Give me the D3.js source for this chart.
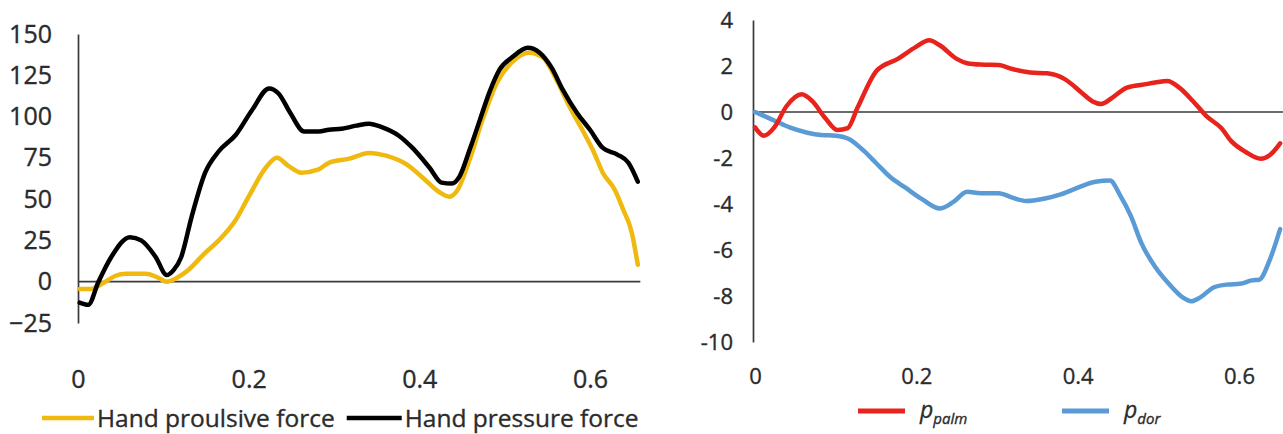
<!DOCTYPE html>
<html>
<head>
<meta charset="utf-8">
<script src="https://cdn.jsdelivr.net/npm/d3@7/dist/d3.min.js"></script>
<style>
  html, body { margin: 0; padding: 0; background: #fff; }
  svg { display: block; }
  text { font-family: "Open Sans", sans-serif; fill: #2b2b2b; stroke: #2b2b2b; stroke-width: 0.35px; }
</style>
</head>
<body>
<svg id="chart" width="1283" height="434"></svg>
<script>
// ---------- Left chart data ----------
const leftYTicks = [-25, 0, 25, 50, 75, 100, 125, 150];
const leftXTicks = [0, 0.2, 0.4, 0.6];
const leftXTickLabels = ["0", "0.2", "0.4", "0.6"];
const leftSeriesNames = ["Hand proulsive force", "Hand pressure force"];

const propulsiveX = [0.002,0.015,0.032,0.044,0.056,0.080,0.094,0.104,0.118,0.129,0.149,0.165,0.185,0.200,0.220,0.233,0.247,0.262,0.282,0.294,0.318,0.341,0.361,0.385,0.404,0.424,0.435,0.445,0.459,0.474,0.491,0.508,0.529,0.545,0.561,0.576,0.592,0.604,0.615,0.629,0.639,0.649,0.656];
const propulsiveY = [-4.4,-4.4,0,3.6,4.8,4.8,2.4,0,3,7,17.5,25,37.5,51.5,69,75,70,66,68,72,74.5,78,76.3,71,63,54,51.5,55.7,74,98,120.5,132.6,138.7,135.6,122,106,91,79,66,55.7,43.6,29.7,10.3];

const pressureX = [0.002,0.012,0.024,0.039,0.061,0.074,0.091,0.104,0.112,0.121,0.133,0.149,0.165,0.185,0.204,0.224,0.235,0.249,0.265,0.282,0.294,0.309,0.326,0.341,0.356,0.376,0.392,0.412,0.426,0.438,0.447,0.459,0.471,0.482,0.494,0.509,0.527,0.541,0.555,0.568,0.585,0.600,0.615,0.632,0.645,0.656];
const pressureY = [-12.7,-14,0,15,27,25,15,4,7,15,39,66,79,89,104,117,114,102,91,91,92,92.6,94.5,95.7,93.6,88.4,81,69,60,59.4,63.6,80,98,114.5,128.4,136,141.7,138.7,129.6,116.3,102,92,81,77,72,60.6];

// ---------- Right chart data ----------
const rightYTicks = [-10, -8, -6, -4, -2, 0, 2, 4];
const rightXTicks = [0, 0.2, 0.4, 0.6];
const rightXTickLabels = ["0", "0.2", "0.4", "0.6"];
const rightSeriesSubs = ["palm", "dor"];

const palmX = [0.000,0.011,0.024,0.039,0.058,0.071,0.087,0.102,0.115,0.127,0.151,0.177,0.199,0.216,0.229,0.250,0.263,0.280,0.302,0.319,0.341,0.362,0.384,0.405,0.418,0.429,0.444,0.461,0.483,0.496,0.511,0.526,0.543,0.560,0.578,0.591,0.608,0.627,0.638,0.651];
const palmY = [-0.67,-1.03,-0.67,0.25,0.77,0.47,-0.26,-0.78,-0.7,0.18,1.8,2.31,2.82,3.12,2.9,2.31,2.12,2.06,2.04,1.87,1.72,1.68,1.43,0.84,0.47,0.35,0.65,1.06,1.2,1.28,1.35,1.06,0.47,-0.19,-0.7,-1.29,-1.73,-2.03,-1.88,-1.36];

const dorX = [0.000,0.022,0.043,0.065,0.082,0.100,0.117,0.134,0.151,0.168,0.186,0.207,0.229,0.246,0.263,0.280,0.302,0.319,0.336,0.358,0.380,0.401,0.422,0.440,0.453,0.466,0.479,0.496,0.513,0.530,0.541,0.552,0.569,0.586,0.601,0.616,0.625,0.638,0.651];
const dorY = [0,-0.34,-0.67,-0.9,-1,-1.03,-1.18,-1.66,-2.25,-2.84,-3.28,-3.79,-4.2,-3.91,-3.47,-3.53,-3.53,-3.72,-3.87,-3.77,-3.57,-3.28,-3.03,-2.98,-3.65,-4.53,-5.7,-6.73,-7.47,-8.06,-8.23,-8.06,-7.62,-7.5,-7.47,-7.32,-7.29,-6.44,-5.09];

// ---------- Drawing ----------
const svg = d3.select("#chart");
svg.append("rect").attr("width", 1283).attr("height", 434).attr("fill", "#fff");

const axisColor = "#3a3a3a";
const zip = (xs, ys) => xs.map((x, i) => ({ x, y: ys[i] }));
const styleText = sel => sel.style("font-family", "Open Sans").attr("fill", "#2b2b2b");

// ===== LEFT =====
const xL = d3.scaleLinear().domain([0, 0.6]).range([78, 590]);
const yL = d3.scaleLinear().domain([-25, 150]).range([323, 34]);
const gL = svg.append("g");

const yAxisL = gL.append("g").attr("transform", `translate(${xL(0)},0)`)
  .call(d3.axisLeft(yL).tickValues(leftYTicks).tickSize(0).tickPadding(26).tickFormat(d3.format("d")));
yAxisL.select(".domain").attr("stroke", axisColor).attr("stroke-width", 1.7);
styleText(yAxisL.selectAll("text")).style("font-size", "25px");

gL.append("line").attr("x1", xL(0)).attr("x2", xL(0.659)).attr("y1", yL(0)).attr("y2", yL(0))
  .attr("stroke", axisColor).attr("stroke-width", 1.7);

const xAxisL = gL.append("g").attr("transform", `translate(0,${yL(-25) + 47})`)
  .call(d3.axisBottom(xL).tickValues(leftXTicks).tickSize(0).tickPadding(0).tickFormat((d, i) => leftXTickLabels[i]));
xAxisL.select(".domain").remove();
styleText(xAxisL.selectAll("text")).style("font-size", "25px");

const lineL = d3.line().x(d => xL(d.x)).y(d => yL(d.y)).curve(d3.curveMonotoneX);
const leftColors = ["#f0b90f", "#000000"];
gL.append("path").datum(zip(propulsiveX, propulsiveY)).attr("d", lineL)
  .attr("fill", "none").attr("stroke", leftColors[0]).attr("stroke-width", 4.5).attr("stroke-linejoin", "round").attr("stroke-linecap", "round");
gL.append("path").datum(zip(pressureX, pressureY)).attr("d", lineL)
  .attr("fill", "none").attr("stroke", leftColors[1]).attr("stroke-width", 4.5).attr("stroke-linejoin", "round").attr("stroke-linecap", "round");

// left legend
const legL = gL.append("g").attr("transform", "translate(42,418)");
let lx = 0;
leftSeriesNames.forEach((name, i) => {
  const len = i === 0 ? 52 : 55;
  legL.append("line").attr("x1", lx).attr("x2", lx + len).attr("y1", 0).attr("y2", 0)
    .attr("stroke", leftColors[i]).attr("stroke-width", 4.5);
  const t = legL.append("text").attr("x", lx + len + 3).attr("y", 0).attr("dy", "0.35em")
    .style("font-size", "24.5px").text(name);
  lx = lx + len + 3 + t.node().getComputedTextLength() + 12;
});

// ===== RIGHT =====
const xR = d3.scaleLinear().domain([0, 0.6]).range([755, 1239]);
const yR = d3.scaleLinear().domain([-10, 4]).range([342, 20]);
const gR = svg.append("g");

const yAxisR = gR.append("g").attr("transform", `translate(${xR(0) - 2},0)`)
  .call(d3.axisLeft(yR).tickValues(rightYTicks).tickSize(0).tickPadding(20).tickFormat(d3.format("d")));
yAxisR.select(".domain").attr("stroke", axisColor).attr("stroke-width", 1.7);
styleText(yAxisR.selectAll("text")).style("font-size", "22px")
  .text(d => d < 0 ? "-" + Math.abs(d) : d);

gR.append("line").attr("x1", xR(0) - 2).attr("x2", xR(0.68)).attr("y1", yR(0)).attr("y2", yR(0))
  .attr("stroke", axisColor).attr("stroke-width", 1.7);

const xAxisR = gR.append("g").attr("transform", `translate(0,${yR(-10) + 26})`)
  .call(d3.axisBottom(xR).tickValues(rightXTicks).tickSize(0).tickPadding(0).tickFormat((d, i) => rightXTickLabels[i]));
xAxisR.select(".domain").remove();
styleText(xAxisR.selectAll("text")).style("font-size", "22px");

const lineR = d3.line().x(d => xR(d.x)).y(d => yR(d.y)).curve(d3.curveMonotoneX);
const rightColors = ["#e8231c", "#5b9bd5"];
gR.append("path").datum(zip(dorX, dorY)).attr("d", lineR)
  .attr("fill", "none").attr("stroke", rightColors[1]).attr("stroke-width", 4.5).attr("stroke-linejoin", "round").attr("stroke-linecap", "round");
gR.append("path").datum(zip(palmX, palmY)).attr("d", lineR)
  .attr("fill", "none").attr("stroke", rightColors[0]).attr("stroke-width", 4.5).attr("stroke-linejoin", "round").attr("stroke-linecap", "round");

// right legend
const legR = gR.append("g").attr("transform", "translate(858,411)");
const legPos = [0, 204];
rightSeriesSubs.forEach((sub, i) => {
  const g = legR.append("g").attr("transform", `translate(${legPos[i]},0)`);
  g.append("line").attr("x1", 0).attr("x2", 47).attr("y1", 0).attr("y2", 0)
    .attr("stroke", rightColors[i]).attr("stroke-width", 5);
  const t = g.append("text").attr("x", 62).attr("y", 0).attr("dy", "0.3em")
    .style("font-size", "23px").style("font-style", "italic");
  t.append("tspan").text("p");
  t.append("tspan").attr("dy", 6).style("font-size", "15px").text(sub);
});
</script>
</body>
</html>
